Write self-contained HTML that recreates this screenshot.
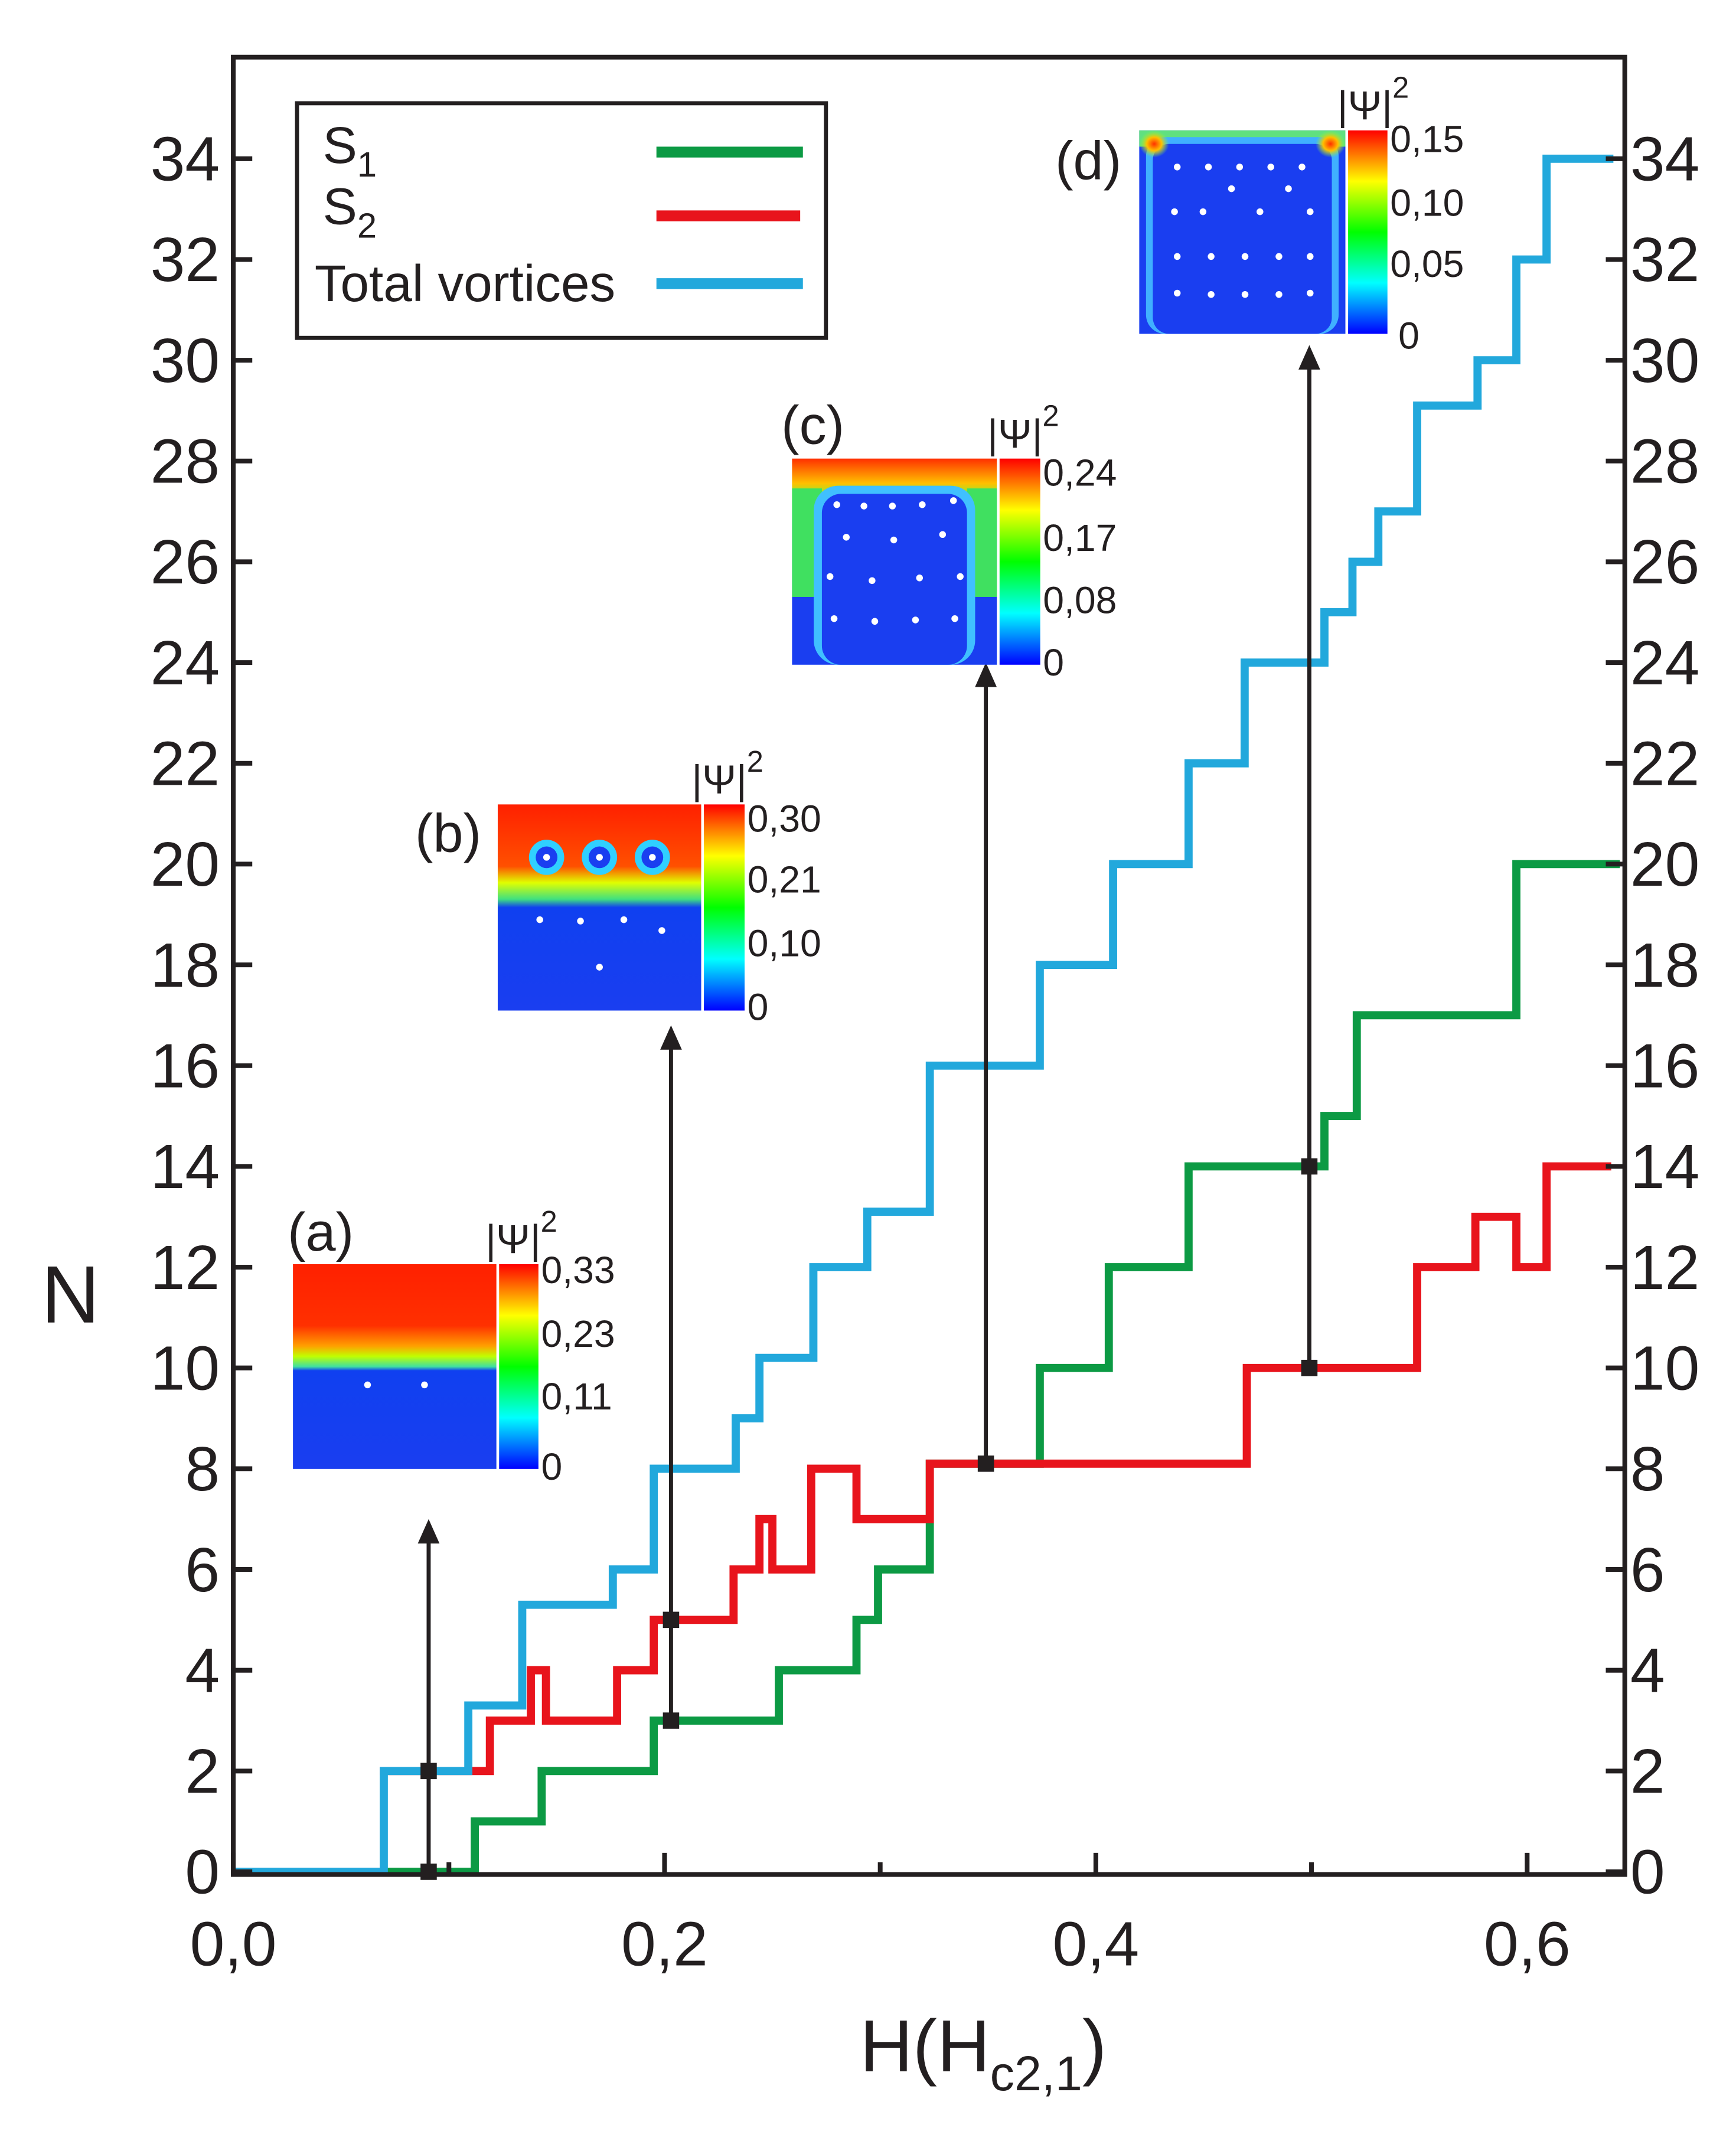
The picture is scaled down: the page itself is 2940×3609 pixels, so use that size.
<!DOCTYPE html>
<html><head><meta charset="utf-8"><style>
html,body{margin:0;padding:0;background:#fff}
svg{display:block}
text{font-family:"Liberation Sans",Arial,sans-serif;fill:#231f20}
</style></head><body>
<svg id="chart" width="2940" height="3609" viewBox="0 0 1280 1571" xmlns="http://www.w3.org/2000/svg">
<defs>
<linearGradient id="cbar" x1="0" y1="1" x2="0" y2="0">
<stop offset="0" stop-color="#0000ff"/><stop offset="0.25" stop-color="#00ffff"/><stop offset="0.5" stop-color="#00ff00"/><stop offset="0.75" stop-color="#ffff00"/><stop offset="1" stop-color="#ff0000"/>
</linearGradient>
<linearGradient id="ga" x1="0" y1="0" x2="0" y2="1">
<stop offset="0" stop-color="#ff2000"/><stop offset="0.3" stop-color="#ff3000"/><stop offset="0.4" stop-color="#ffa000"/><stop offset="0.45" stop-color="#c0ff00"/><stop offset="0.5" stop-color="#40e0a0"/><stop offset="0.52" stop-color="#1040f0"/><stop offset="1" stop-color="#1a3ef0"/>
</linearGradient>
<linearGradient id="gb" x1="0" y1="0" x2="0" y2="1">
<stop offset="0" stop-color="#ff2000"/><stop offset="0.3" stop-color="#ff5000"/><stop offset="0.38" stop-color="#e0ff00"/><stop offset="0.46" stop-color="#40e080"/><stop offset="0.5" stop-color="#1040f0"/><stop offset="1" stop-color="#1a3ef0"/>
</linearGradient>
<linearGradient id="gc" x1="0" y1="0" x2="0" y2="1">
<stop offset="0" stop-color="#ff3000"/><stop offset="0.12" stop-color="#ffc000"/><stop offset="0.2" stop-color="#60ff40"/><stop offset="0.28" stop-color="#40c0ff"/><stop offset="0.34" stop-color="#1a3ef0"/><stop offset="1" stop-color="#1a3ef0"/>
</linearGradient>
<radialGradient id="corner"><stop offset="0" stop-color="#ff3000"/><stop offset="0.5" stop-color="#ffc000"/><stop offset="1" stop-color="#80ff40" stop-opacity="0"/></radialGradient>
</defs>
<rect x="0" y="0" width="1280" height="1571" fill="#fff"/>
<g id="series"></g>
<g id="axes"></g>
<g id="markers"></g>

<g>
<rect x="219" y="76" width="390" height="173" fill="#fff" stroke="#231f20" stroke-width="3"/>
<text x="238" y="120" font-size="38">S<tspan font-size="26" dy="10">1</tspan></text>
<line x1="484" y1="112" x2="592" y2="112" stroke="#0c9a44" stroke-width="8"/>
<text x="238" y="165" font-size="38">S<tspan font-size="26" dy="10">2</tspan></text>
<line x1="484" y1="159" x2="590" y2="159" stroke="#e8141c" stroke-width="8"/>
<text x="232" y="222" font-size="38">Total vortices</text>
<line x1="484" y1="209" x2="592" y2="209" stroke="#22a8dc" stroke-width="8"/>
</g>

<g>
<text x="212" y="922" font-size="40">(a)</text>
<rect x="216" y="932" width="150" height="151" fill="url(#ga)"/>
<circle cx="271" cy="1021" r="2.5" fill="#fff"/><circle cx="313" cy="1021" r="2.5" fill="#fff"/>
<rect x="368" y="932" width="29" height="151" fill="url(#cbar)"/>
<text x="358" y="924" font-size="30">|Ψ|<tspan font-size="22" dy="-16">2</tspan></text>
<text x="399" y="946" font-size="28">0,33</text><text x="399" y="993" font-size="28">0,23</text><text x="399" y="1039" font-size="28">0,11</text><text x="399" y="1091" font-size="28">0</text>
</g>
<g>
<text x="306" y="628" font-size="40">(b)</text>
<rect x="367" y="593" width="150" height="152" fill="url(#gb)"/>
<circle cx="403" cy="632" r="13" fill="#30d0ff"/><circle cx="403" cy="632" r="8" fill="#1a3ef0"/><circle cx="403" cy="632" r="2.5" fill="#fff"/>
<circle cx="442" cy="632" r="13" fill="#30d0ff"/><circle cx="442" cy="632" r="8" fill="#1a3ef0"/><circle cx="442" cy="632" r="2.5" fill="#fff"/>
<circle cx="481" cy="632" r="13" fill="#30d0ff"/><circle cx="481" cy="632" r="8" fill="#1a3ef0"/><circle cx="481" cy="632" r="2.5" fill="#fff"/>
<circle cx="398" cy="678" r="2.5" fill="#fff"/><circle cx="428" cy="679" r="2.5" fill="#fff"/><circle cx="460" cy="678" r="2.5" fill="#fff"/><circle cx="488" cy="686" r="2.5" fill="#fff"/><circle cx="442" cy="713" r="2.5" fill="#fff"/>
<rect x="519" y="593" width="30" height="152" fill="url(#cbar)"/>
<text x="510" y="585" font-size="30">|Ψ|<tspan font-size="22" dy="-16">2</tspan></text>
<text x="551" y="613" font-size="28">0,30</text><text x="551" y="658" font-size="28">0,21</text><text x="551" y="705" font-size="28">0,10</text><text x="551" y="752" font-size="28">0</text>
</g>
<g>
<text x="576" y="327" font-size="40">(c)</text>
<rect x="584" y="338" width="151" height="152" fill="url(#gc)"/>
<rect x="584" y="360" width="22" height="80" fill="#40e060"/><rect x="713" y="360" width="22" height="80" fill="#40e060"/>
<rect x="600" y="358" width="119" height="132" rx="18" fill="#40c0ff"/>
<rect x="606" y="364" width="107" height="126" rx="14" fill="#1a3ef0"/>
<g fill="#fff"><circle cx="617" cy="372" r="2.5"/><circle cx="637" cy="373" r="2.5"/><circle cx="658" cy="373" r="2.5"/><circle cx="680" cy="372" r="2.5"/><circle cx="703" cy="369" r="2.5"/>
<circle cx="624" cy="396" r="2.5"/><circle cx="659" cy="398" r="2.5"/><circle cx="695" cy="394" r="2.5"/>
<circle cx="612" cy="425" r="2.5"/><circle cx="643" cy="428" r="2.5"/><circle cx="678" cy="426" r="2.5"/><circle cx="708" cy="425" r="2.5"/>
<circle cx="615" cy="456" r="2.5"/><circle cx="645" cy="458" r="2.5"/><circle cx="675" cy="457" r="2.5"/><circle cx="704" cy="456" r="2.5"/></g>
<rect x="737" y="338" width="30" height="152" fill="url(#cbar)"/>
<text x="728" y="330" font-size="30">|Ψ|<tspan font-size="22" dy="-16">2</tspan></text>
<text x="769" y="358" font-size="28">0,24</text><text x="769" y="406" font-size="28">0,17</text><text x="769" y="452" font-size="28">0,08</text><text x="769" y="498" font-size="28">0</text>
</g>
<g>
<text x="778" y="132" font-size="40">(d)</text>
<rect x="840" y="96" width="152" height="150" fill="#1a3ef0"/>
<rect x="840" y="96" width="152" height="12" fill="#60e080"/>
<rect x="845" y="101" width="142" height="145" rx="14" fill="#40b0ff"/>
<rect x="850" y="106" width="132" height="140" rx="12" fill="#1a3ef0"/>
<rect x="840" y="96" width="22" height="20" fill="url(#corner)"/><rect x="970" y="96" width="22" height="20" fill="url(#corner)"/>
<g fill="#fff"><circle cx="868" cy="123" r="2.5"/><circle cx="891" cy="123" r="2.5"/><circle cx="914" cy="123" r="2.5"/><circle cx="937" cy="123" r="2.5"/><circle cx="960" cy="123" r="2.5"/>
<circle cx="866" cy="156" r="2.5"/><circle cx="887" cy="156" r="2.5"/><circle cx="908" cy="139" r="2.5"/><circle cx="929" cy="156" r="2.5"/><circle cx="950" cy="139" r="2.5"/><circle cx="966" cy="156" r="2.5"/>
<circle cx="868" cy="189" r="2.5"/><circle cx="893" cy="189" r="2.5"/><circle cx="918" cy="189" r="2.5"/><circle cx="943" cy="189" r="2.5"/><circle cx="966" cy="189" r="2.5"/>
<circle cx="868" cy="216" r="2.5"/><circle cx="893" cy="217" r="2.5"/><circle cx="918" cy="217" r="2.5"/><circle cx="943" cy="217" r="2.5"/><circle cx="966" cy="216" r="2.5"/></g>
<rect x="994" y="96" width="29" height="150" fill="url(#cbar)"/>
<text x="986" y="88" font-size="30">|Ψ|<tspan font-size="22" dy="-16">2</tspan></text>
<text x="1025" y="112" font-size="28">0,15</text><text x="1025" y="159" font-size="28">0,10</text><text x="1025" y="204" font-size="28">0,05</text><text x="1031" y="257" font-size="28">0</text>
</g>
</svg>
<script>
const xTicks=[0,0.1,0.2,0.3,0.4,0.5,0.6];
const xTickLabels=["0,0","0,2","0,4","0,6"];
const xLabelVals=[0,0.2,0.4,0.6];
const yTicks=[0,2,4,6,8,10,12,14,16,18,20,22,24,26,28,30,32,34];
const totalX=[0,0.0698,0.109,0.134,0.176,0.195,0.233,0.244,0.269,0.294,0.323,0.374,0.408,0.443,0.469,0.506,0.519,0.531,0.549,0.577,0.595,0.609,0.640];
const totalY=[0,2,3.3,5.3,6,8,9,10.2,12,13.1,16,18,20,22,24,25,26,27,29.1,30,32,34,34];
const s1X=[0.0698,0.112,0.143,0.195,0.253,0.289,0.299,0.323,0.374,0.406,0.443,0.506,0.521,0.595,0.643];
const s1Y=[0,1,2,3,4,5,6,8.1,10,12,14,15,17,20,20];
const s2X=[0.0679,0.119,0.138,0.145,0.178,0.195,0.232,0.244,0.250,0.268,0.289,0.323,0.470,0.549,0.576,0.595,0.609,0.639];
const s2Y=[2,3,4,3,4,5,6,7,6,8,7,8.1,10,12,13,12,14,14];
const markerX=[0.0906,0.203,0.349,0.499];
const markerTop=[7,16.8,24,30.3];
const markerPts=[[0,2],[3,5],[8.1],[10,14]];
const X0=172,X1=1198,Y0=42,Y1=1382;
const xs=v=>172+v*1590;
const ys=v=>1380-v*37.15;
const NS="http://www.w3.org/2000/svg";
function mk(tag,attrs,parent){const e=document.createElementNS(NS,tag);for(const k in attrs)e.setAttribute(k,attrs[k]);parent.appendChild(e);return e;}
const axes=document.getElementById('axes');
const series=document.getElementById('series');
const markers=document.getElementById('markers');
let fr=mk('rect',{x:X0,y:Y0,width:X1-X0,height:Y1-Y0,fill:'none',stroke:'#231f20','stroke-width':3.5},axes);


xTicks.forEach(v=>{
  const len=(Math.round(v*10)%2===0)?16:9;
  const t=mk('line',{x1:xs(v),x2:xs(v),y1:Y1,y2:Y1-len,stroke:'#231f20','stroke-width':3.5},axes);
  
  
});
xLabelVals.forEach((v,i)=>{
  const t=mk('text',{x:xs(v),y:1449,'font-size':46,'text-anchor':'middle'},axes);t.textContent=xTickLabels[i];
  
  
});
yTicks.forEach(v=>{
  const a=mk('line',{x1:X0,x2:X0+14,y1:ys(v),y2:ys(v),stroke:'#231f20','stroke-width':3.5},axes);
  
  
  const b=mk('line',{x1:X1,x2:X1-14,y1:ys(v),y2:ys(v),stroke:'#231f20','stroke-width':3.5},axes);
  
  
  const l=mk('text',{x:162,y:ys(v)+16,'font-size':46,'text-anchor':'end'},axes);l.textContent=v;
  
  
  const r=mk('text',{x:1202,y:ys(v)+16,'font-size':46},axes);r.textContent=v;
  
  
});
const yt=mk('text',{x:52,y:975,'font-size':60,'text-anchor':'middle'},axes);yt.textContent='N';


const xt=mk('text',{x:634,y:1527,'font-size':54},axes);


xt.innerHTML='H(H<tspan font-size="36" dy="14">c2,1</tspan><tspan dy="-14">)</tspan>';
function step(X,Y,color,name){
  let d='M'+xs(X[0])+','+ys(Y[0]);
  for(let i=1;i<X.length;i++){d+=' H'+xs(X[i]);if(i<X.length-1||Y[i]!==Y[i-1])d+=' V'+ys(Y[i]);}
  const p=mk('path',{d:d,fill:'none',stroke:color,'stroke-width':6},series);
  
  
}
step(s1X,s1Y,'#0c9a44','line-s1');
step(s2X,s2Y,'#e8141c','line-s2');
step(totalX,totalY,'#22a8dc','line-total-vortices');
markerX.forEach((v,i)=>{
  const x=xs(v);
  const ln=mk('line',{x1:x,x2:x,y1:ys(i===0?0:markerPts[i][0]),y2:ys(markerTop[i])+14,stroke:'#231f20','stroke-width':3},markers);
  
  
  const ty=ys(markerTop[i]);
  const ar=mk('polygon',{points:`${x-8},${ty+18} ${x+8},${ty+18} ${x},${ty}`,fill:'#231f20'},markers);
  
  
  const pts=i===0?[0,2]:markerPts[i];
  pts.forEach(p=>{
    const s=mk('rect',{x:x-6,y:ys(p)-6,width:12,height:12,fill:'#231f20'},markers);
    
    
  });
});
</script>
</body></html>
